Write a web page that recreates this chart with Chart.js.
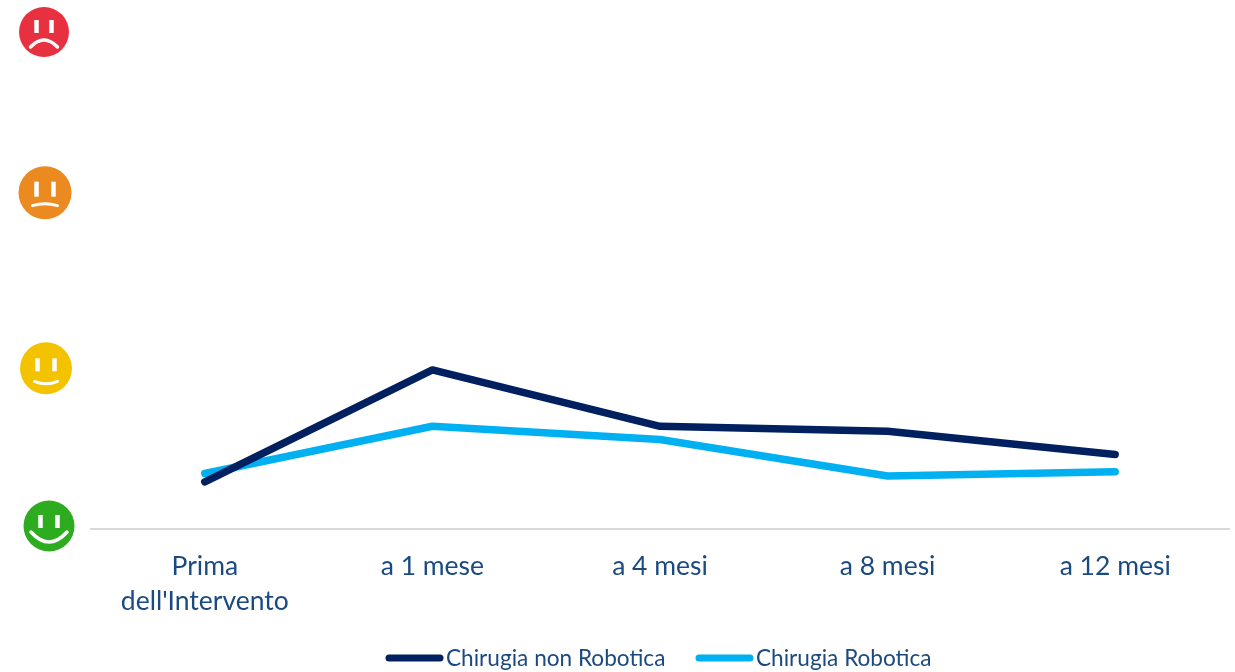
<!DOCTYPE html>
<html>
<head>
<meta charset="utf-8">
<title>Chirurgia</title>
<script src="https://cdn.jsdelivr.net/npm/chart.js@4"></script>
<style>
  html, body { margin: 0; padding: 0; background: #fff; }
  #wrap { width: 1235px; height: 672px; position: relative; }
</style>
</head>
<body>
<div id="wrap"><canvas id="myChart"></canvas></div>
<script>
const categories = [['Prima', "dell'Intervento"], 'a 1 mese', 'a 4 mesi', 'a 8 mesi', 'a 12 mesi'];
const nonRobotica = [0.285, 0.96, 0.62, 0.59, 0.45];
const robotica = [0.335, 0.62, 0.54, 0.32, 0.345];
const faceLevels = [3, 2, 1, 0];

const TEXT = '#1b4a80';
const FONT = 'Lato';

// one entry per face level: nudge from the tick, radius, eye gap, mouth shape
const faceStyles = [
  {color: '#e73040', x: 44, dy: 0, r: 25, eyeX: 7.5, eyeY: -12, eyeH: 13, mouthW: 13.5, mouthY: 15, bend: -7, mouthLine: 3.5},
  {color: '#ea8a20', x: 45, dy: -5, r: 26.5, eyeX: 8.5, eyeY: -11, eyeH: 15, mouthW: 12.5, mouthY: 13, bend: -2, mouthLine: 3},
  {color: '#f4c300', x: 46, dy: 5, r: 26, eyeX: 8.5, eyeY: -10, eyeH: 13, mouthW: 11.5, mouthY: 13, bend: 2.5, mouthLine: 3},
  {color: '#2eac20', x: 49, dy: -3, r: 25.5, eyeX: 8.5, eyeY: -11, eyeH: 13, mouthW: 18, mouthY: 6, bend: 10, mouthLine: 3.5}
];

const facesPlugin = {
  id: 'faces',
  afterDraw(chart) {
    const c = chart.ctx;
    const y = chart.scales.y;
    c.save();
    faceLevels.forEach((level, i) => {
      const s = faceStyles[i];
      const cy = y.getPixelForValue(level) + s.dy;
      c.fillStyle = s.color;
      c.beginPath();
      c.arc(s.x, cy, s.r, 0, Math.PI * 2);
      c.fill();
      c.fillStyle = '#fff';
      [-1, 1].forEach(side => {
        c.fillRect(s.x + side * s.eyeX - 2.25, cy + s.eyeY, 4.5, s.eyeH);
      });
      c.strokeStyle = '#fff';
      c.lineCap = 'round';
      c.lineWidth = s.mouthLine;
      c.beginPath();
      c.moveTo(s.x - s.mouthW, cy + s.mouthY);
      c.quadraticCurveTo(s.x, cy + s.mouthY + s.bend * 2, s.x + s.mouthW, cy + s.mouthY);
      c.stroke();
    });
    c.restore();
  }
};

// legend swatches sit right against the text, closer than the built-in legend allows
const legendX = [389, 699];
const legendPlugin = {
  id: 'tightLegend',
  afterDraw(chart) {
    const c = chart.ctx;
    c.save();
    c.font = '22.6px ' + FONT;
    c.textBaseline = 'middle';
    chart.data.datasets.forEach((ds, i) => {
      c.strokeStyle = ds.borderColor;
      c.lineWidth = 7;
      c.lineCap = 'round';
      c.beginPath();
      c.moveTo(legendX[i], 658);
      c.lineTo(legendX[i] + 51, 658);
      c.stroke();
      c.fillStyle = TEXT;
      c.fillText(ds.label, legendX[i] + 57, 659);
    });
    c.restore();
  }
};

window.onload = function() {
  new Chart(document.getElementById('myChart'), {
    type: 'line',
    data: {
      labels: categories,
      datasets: [
        {label: 'Chirugia non Robotica', data: nonRobotica, borderColor: '#00205f'},
        {label: 'Chirugia Robotica', data: robotica, borderColor: '#00b0f0'}
      ]
    },
    options: {
      responsive: true,
      maintainAspectRatio: false,
      animation: false,
      devicePixelRatio: 1,
      layout: {padding: {left: 91, right: 6, top: 32, bottom: 0}},
      elements: {
        line: {borderWidth: 7.5, tension: 0, borderCapStyle: 'round', borderJoinStyle: 'round'},
        point: {radius: 0}
      },
      plugins: {legend: {display: false}, tooltip: {enabled: false}},
      scales: {
        x: {
          offset: true,
          grid: {display: false},
          border: {color: '#d9d9d9', width: 2},
          afterFit(scale) { scale.height = 143; },
          ticks: {
            color: TEXT,
            padding: 12,
            maxRotation: 0,
            font: {family: FONT, size: 26.5, lineHeight: 1.33}
          }
        },
        y: {display: false, min: 0, max: 3}
      }
    },
    plugins: [facesPlugin, legendPlugin]
  });
};
</script>
</body>
</html>
